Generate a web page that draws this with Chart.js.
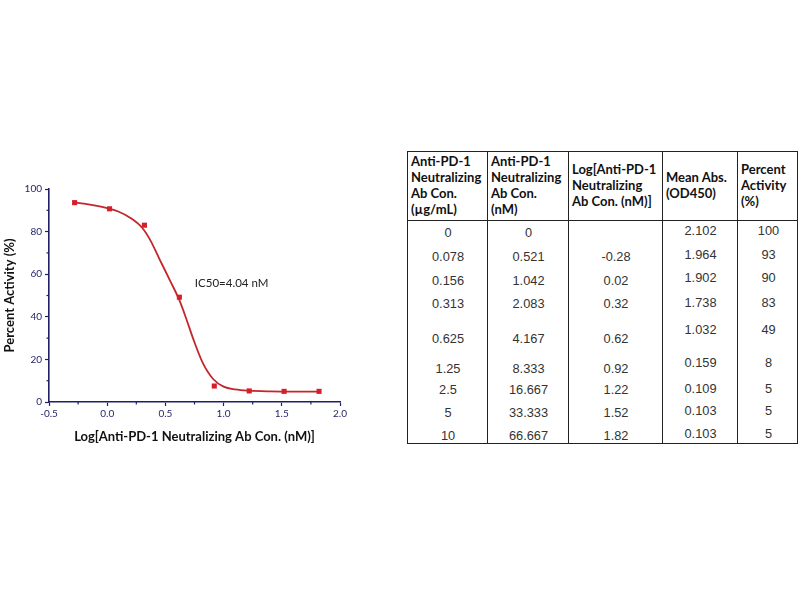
<!DOCTYPE html>
<html>
<head>
<meta charset="utf-8">
<script src="https://cdn.jsdelivr.net/npm/chart.js@4.4.0/dist/chart.umd.min.js"></script>
<style>
  html, body { margin: 0; padding: 0; background: #fff; }
  body { width: 800px; height: 600px; position: relative; overflow: hidden; }
  #chartBox { position: absolute; left: 0; top: 170px; width: 360px; height: 280px; }
  #tbl { position: absolute; left: 407px; top: 151px; width: 391px; height: 293px;
         box-sizing: border-box; border: 1.5px solid #222; }
  .vline { position: absolute; top: 0; bottom: 0; width: 0; border-left: 1.5px solid #222; }
  .hline { position: absolute; left: 0; right: 0; height: 0; border-top: 1.5px solid #222; }
  .hcell { position: absolute; font-family: Lato, "Open Sans", sans-serif; font-weight: bold;
           font-size: 13px; line-height: 15.8px; color: #111; display: flex; align-items: center; }
  .bcell { position: absolute; font-family: "Liberation Sans", Arial, sans-serif; font-size: 12.8px;
           color: #333; text-align: center; line-height: 14px; }
</style>
</head>
<body>
<div id="chartBox"><canvas id="c"></canvas></div>
<div id="tbl"></div>
<script>
// ---- data ----
const logConc = [-0.28, 0.02, 0.32, 0.62, 0.92, 1.22, 1.52, 1.82];
const pointActivity = [93.6, 90.7, 83.0, 49.2, 7.5, 5.2, 5.0, 5.0];
const fitX = [-0.28, -0.2, -0.1, 0.0, 0.1, 0.2, 0.3, 0.37, 0.45, 0.54, 0.62, 0.68, 0.74, 0.82, 0.91, 1.0, 1.1, 1.22, 1.4, 1.6, 1.82];
const fitY = [93.6, 93.1, 92.2, 91.0, 89.3, 86.4, 81.8, 76.0, 67.0, 57.0, 47.8, 39.0, 29.5, 18.5, 10.8, 7.2, 5.9, 5.3, 5.0, 4.9, 4.9];
const ic50Label = "IC50=4.04 nM";
const xTitle = "Log[Anti-PD-1 Neutralizing Ab Con. (nM)]";
const yTitle = "Percent Activity (%)";

const tableHeaders = [
  ["Anti-PD-1", "Neutralizing", "Ab Con.", "(\u00b5g/mL)"],
  ["Anti-PD-1", "Neutralizing", "Ab Con.", "(nM)"],
  ["Log[Anti-PD-1", "Neutralizing", "Ab Con. (nM)]"],
  ["Mean Abs.", "(OD450)"],
  ["Percent", "Activity", "(%)"]
];
const colUgml = ["0", "0.078", "0.156", "0.313", "0.625", "1.25", "2.5", "5", "10"];
const colNm = ["0", "0.521", "1.042", "2.083", "4.167", "8.333", "16.667", "33.333", "66.667"];
const colLog = ["", "-0.28", "0.02", "0.32", "0.62", "0.92", "1.22", "1.52", "1.82"];
const colAbs = ["2.102", "1.964", "1.902", "1.738", "1.032", "0.159", "0.109", "0.103", "0.103"];
const colPct = ["100", "93", "90", "83", "49", "8", "5", "5", "5"];

// ---- chart ----
const NAVY = '#1f1f66';
const minorTicks = {
  id: 'minorTicks',
  afterDraw(chart) {
    const ctx = chart.ctx, xs = chart.scales.x, ys = chart.scales.y;
    ctx.save();
    ctx.strokeStyle = NAVY; ctx.lineWidth = 1.2;
    [10, 30, 50, 70, 90].forEach(v => {
      const y = ys.getPixelForValue(v);
      ctx.beginPath(); ctx.moveTo(xs.left, y); ctx.lineTo(xs.left - 2.5, y); ctx.stroke();
    });
    [-0.25, 0.25, 0.75, 1.25, 1.75].forEach(v => {
      const x = xs.getPixelForValue(v);
      ctx.beginPath(); ctx.moveTo(x, ys.bottom); ctx.lineTo(x, ys.bottom + 2.5); ctx.stroke();
    });
    ctx.fillStyle = '#222';
    ctx.font = '11.5px Lato, "Open Sans", sans-serif';
    ctx.textAlign = 'left'; ctx.textBaseline = 'middle';
    ctx.fillText(ic50Label, xs.getPixelForValue(0.753), ys.getPixelForValue(55.8));
    ctx.restore();
  }
};

new Chart(document.getElementById('c'), {
  type: 'scatter',
  data: {
    datasets: [
      {
        type: 'line',
        data: fitX.map((x, i) => ({ x, y: fitY[i] })),
        borderColor: '#c3262c', borderWidth: 1.8, pointRadius: 0,
        cubicInterpolationMode: 'monotone', fill: false, order: 2
      },
      {
        data: logConc.map((x, i) => ({ x, y: pointActivity[i] })),
        pointStyle: 'rect', pointRadius: 3.6, backgroundColor: '#d61f2a', borderColor: '#d61f2a',
        borderWidth: 0, order: 1
      }
    ]
  },
  options: {
    responsive: true, maintainAspectRatio: false, animation: false,
    devicePixelRatio: 1,
    layout: { padding: { top: 19, right: 20, left: 0, bottom: 0 } },
    plugins: { legend: { display: false }, tooltip: { enabled: false } },
    scales: {
      x: {
        type: 'linear', min: -0.5, max: 2.0,
        afterFit(s) { s.height = 48; },
        ticks: { stepSize: 0.5, color: NAVY, padding: 2, font: { family: 'Lato, "Open Sans", sans-serif', size: 10 },
                 callback: v => Number(v).toFixed(1), maxRotation: 0 },
        grid: { drawOnChartArea: false, drawTicks: true, tickLength: 4, color: NAVY, tickWidth: 1.2 },
        border: { display: true, color: NAVY, width: 1.6 },
        title: { display: true, text: xTitle, color: '#111',
                 font: { family: 'Lato, "Open Sans", sans-serif', size: 13, weight: 'bold' },
                 padding: { top: 0, bottom: 5 } }
      },
      y: {
        min: 0, max: 100,
        afterFit(s) { s.width = 49; },
        ticks: { stepSize: 20, color: NAVY, padding: 3, font: { family: 'Lato, "Open Sans", sans-serif', size: 10 } },
        grid: { drawOnChartArea: false, drawTicks: true, tickLength: 4, color: NAVY, tickWidth: 1.2 },
        border: { display: true, color: NAVY, width: 1.6 },
        title: { display: true, text: yTitle, color: '#111',
                 font: { family: 'Lato, "Open Sans", sans-serif', size: 13, weight: 'bold' },
                 padding: { top: 2, bottom: 0 } }
      }
    }
  },
  plugins: [minorTicks]
});

// ---- table ----
const tbl = document.getElementById('tbl');
const TOP = 151, LEFT = 407;
const colEdges = [407, 487, 568, 662, 737, 798];
const headerBottom = 220;
const rowCenters = [233, 257, 281, 304, 339, 369, 390, 413, 436];
const rowCentersRight = [231, 255, 278, 303, 330, 363, 389, 411, 434];
for (let i = 1; i < colEdges.length - 1; i++) {
  const d = document.createElement('div'); d.className = 'vline';
  d.style.left = (colEdges[i] - LEFT - 1.5) + 'px'; tbl.appendChild(d);
}
const hl = document.createElement('div'); hl.className = 'hline';
hl.style.top = (headerBottom - TOP - 1.5) + 'px'; tbl.appendChild(hl);

tableHeaders.forEach((lines, c) => {
  const d = document.createElement('div'); d.className = 'hcell';
  d.style.left = (colEdges[c] - LEFT + 3) + 'px';
  d.style.top = '0px';
  d.style.height = (headerBottom - TOP - 1) + 'px';
  d.style.width = (colEdges[c + 1] - colEdges[c] - 6) + 'px';
  const inner = document.createElement('div');
  inner.innerHTML = lines.map(s => s.replace(/&/g, '&amp;').replace(/</g, '&lt;')).join('<br>');
  d.appendChild(inner);
  tbl.appendChild(d);
});
const cols = [colUgml, colNm, colLog, colAbs, colPct];
cols.forEach((col, c) => {
  col.forEach((txt, r) => {
    const d = document.createElement('div'); d.className = 'bcell';
    const cy = (c >= 3 ? rowCentersRight[r] : rowCenters[r]);
    d.style.left = (colEdges[c] - LEFT) + 'px';
    d.style.width = (colEdges[c + 1] - colEdges[c]) + 'px';
    d.style.top = (cy - TOP - 7 - 1.5) + 'px';
    d.textContent = txt;
    tbl.appendChild(d);
  });
});
</script>
</body>
</html>
